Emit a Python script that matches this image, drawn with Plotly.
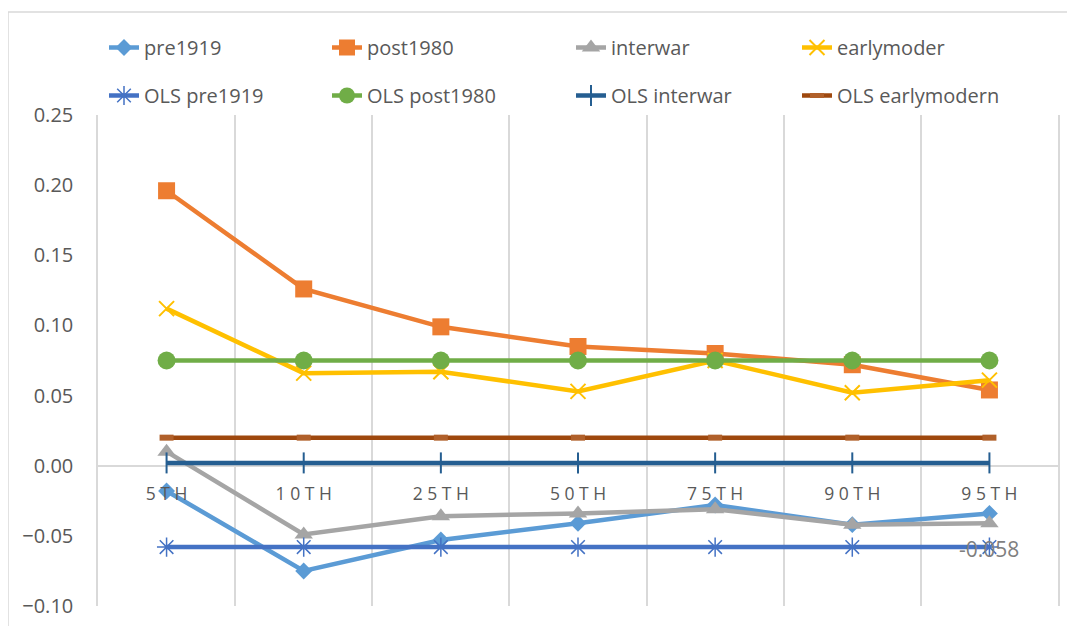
import plotly.graph_objects as go

categories = ["5TH", "10TH", "25TH", "50TH", "75TH", "90TH", "95TH"]

pre1919 = [-0.018, -0.075, -0.053, -0.041, -0.028, -0.042, -0.034]
post1980 = [0.196, 0.126, 0.099, 0.085, 0.080, 0.072, 0.054]
interwar = [0.010, -0.049, -0.036, -0.034, -0.031, -0.042, -0.041]
earlymoder = [0.112, 0.066, 0.067, 0.053, 0.075, 0.052, 0.061]
ols_pre1919 = [-0.058] * 7
ols_post1980 = [0.075] * 7
ols_interwar = [0.002] * 7
ols_earlymodern = [0.020] * 7

y_ticks = [-0.10, -0.05, 0.00, 0.05, 0.10, 0.15, 0.20, 0.25]

FONT = "Open Sans"
GRAY = "#595959"
GRID = "#d9d9d9"

# spaced tick labels (letter-spacing look)
tick_text = [" ".join(list(c)) for c in categories]

fig = go.Figure()

def add(name, y, color, symbol, size, legend, mline=0, mcolor=None):
    marker = dict(symbol=symbol, size=size, color=mcolor or color,
                  line=dict(width=mline, color=mcolor or color))
    fig.add_trace(go.Scatter(
        x=categories, y=y, name=name, mode="lines+markers",
        line=dict(color=color, width=4.5), marker=marker,
        legend=legend, legendgroup=name))

add("pre1919", pre1919, "#5B9BD5", "diamond", 13, "legend")
add("post1980", post1980, "#ED7D31", "square", 17, "legend2")
add("interwar", interwar, "#A5A5A5", "triangle-up", 16, "legend3")
add("earlymoder", earlymoder, "#FFC000", "x-thin-open", 15, "legend4", mline=2)
add("OLS pre1919", ols_pre1919, "#4472C4", "asterisk-open", 16, "legend", mline=1.5)
add("OLS post1980", ols_post1980, "#70AD47", "circle", 18, "legend2")
add("OLS interwar", ols_interwar, "#255E91", "line-ns-open", 15, "legend3", mline=2)
add("OLS earlymodern", ols_earlymodern, "#9E480E", "line-ew-open", 10, "legend4", mline=6,
    mcolor="#B0602A")

# page body has an 8px offset; positions below are in figure coordinates
OFF = 8
W, H = 1075, 626
L, T = 98 - OFF, 115 - OFF
R = W - (1058 - OFF)
B = H - (606 - OFF)
pw, ph = W - L - R, H - T - B

def px_to_paper_x(px):
    return (px - OFF - L) / pw

def px_to_paper_y(py):
    return (H - B - (py - OFF)) / ph

leg_common = dict(orientation="v", font=dict(family=FONT, size=20, color=GRAY),
                  bgcolor="rgba(0,0,0,0)", tracegroupgap=19, xanchor="left",
                  yanchor="top", itemwidth=30, xref="container", yref="container")
text_starts = [145, 368, 612, 838]
legs = {}
for i, key in enumerate(["legend", "legend2", "legend3", "legend4"]):
    legs[key] = dict(leg_common, x=(text_starts[i] - 49) / W, y=1 - 20 / H)

fig.update_layout(
    width=W, height=H,
    margin=dict(l=L, r=R, t=T, b=B, autoexpand=False),
    paper_bgcolor="white", plot_bgcolor="white",
    font=dict(family=FONT, color=GRAY),
    showlegend=True,
    **legs,
    xaxis=dict(
        type="category", tickson="boundaries", showgrid=True,
        gridcolor=GRID, gridwidth=1.5, showline=False, ticks="",
        tickvals=categories, ticktext=tick_text, automargin=False,
        tickfont=dict(family=FONT, size=17.5, color=GRAY),
        anchor="free", position=0.10 / 0.35, ticklabelstandoff=16,
        range=[-0.5, 6.5], zeroline=False,
    ),
    yaxis=dict(
        range=[-0.10, 0.25], tickvals=y_ticks, tickformat=".2f",
        showgrid=False, zeroline=True, zerolinecolor=GRID, zerolinewidth=1.5,
        showline=True, mirror=True, linecolor=GRID, linewidth=1.5,
        ticks="", ticklabelstandoff=19, automargin=False,
        tickfont=dict(family=FONT, size=20, color=GRAY),
    ),
    annotations=[dict(
        x=categories[-1], y=ols_pre1919[-1], xref="x", yref="y",
        text=f"{ols_pre1919[-1]:.3f}", showarrow=False, yshift=-2,
        font=dict(family=FONT, size=21, color="#7f7f7f"))],
    shapes=[dict(type="rect", xref="paper", yref="paper",
                 x0=px_to_paper_x(8), x1=px_to_paper_x(1090),
                 y0=px_to_paper_y(645), y1=px_to_paper_y(12),
                 line=dict(color=GRID, width=1.5), layer="below")],
)

fig.write_html("out.html")
